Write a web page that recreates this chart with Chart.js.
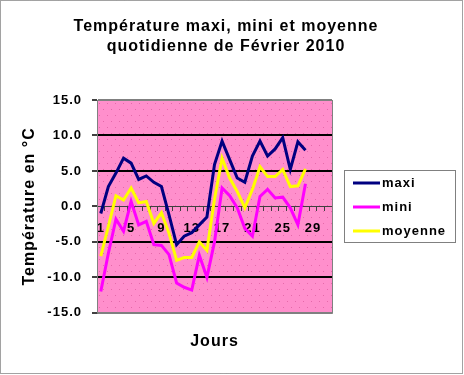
<!DOCTYPE html>
<html>
<head>
<meta charset="utf-8">
<script src="https://cdn.jsdelivr.net/npm/chart.js@4/dist/chart.umd.min.js"></script>
<style>
  html, body { margin: 0; padding: 0; background: #fff; }
  #wrap { width: 464px; height: 375px; }
</style>
</head>
<body>
<div id="wrap"><canvas id="tempChart" width="464" height="375"></canvas></div>
<script>
const days = ['1', '2', '3', '4', '5', '6', '7', '8', '9', '10', '11', '12', '13', '14', '15', '16',
  '17', '18', '19', '20', '21', '22', '23', '24', '25', '26', '27', '28', '29', '30', '31'];
const maxi = [-1.0, 2.8, 4.7, 6.8, 6.1, 3.8, 4.3, 3.4, 2.8, -1.2, -5.4, -4.2, -3.7, -2.6, -1.5,
  5.9, 9.2, 6.6, 4.0, 3.4, 7.1, 9.2, 7.1, 8.1, 9.7, 5.2, 9.1, 7.9];
const mini = [-12.0, -6.6, -1.8, -3.5, 0.7, -2.6, -2.1, -5.4, -5.5, -6.8, -10.8, -11.4, -11.8, -6.9, -10.0,
  -5.0, 2.6, 1.5, -0.2, -3.1, -4.2, 1.4, 2.4, 1.2, 1.3, -0.2, -2.6, 3.2];
const moyenne = [-7.0, -2.8, 1.5, 0.9, 2.6, 0.5, 0.7, -2.4, -0.9, -3.8, -7.6, -7.2, -7.2, -5.0, -6.2,
  1.0, 6.8, 4.0, 2.1, -0.2, 2.4, 5.6, 4.2, 4.2, 5.2, 2.8, 2.9, 5.3];

const FONT = 'Arial, "Liberation Sans", sans-serif';

// old Excel bitmap text is a bit wider than Arial, so space letters out
const wideText = {
  id: 'wideText',
  beforeUpdate(chart) { chart.ctx.letterSpacing = '1px'; },
  beforeDraw(chart) { chart.ctx.letterSpacing = '1px'; }
};

// pink dotted plot background + grey frame + dotted outer border
const plotArea = {
  id: 'plotArea',
  beforeDraw(chart) {
    const { ctx, chartArea: a } = chart;
    ctx.save();
    ctx.fillStyle = '#ff8fcc';
    ctx.fillRect(a.left, a.top, a.right - a.left, a.bottom - a.top);
    ctx.fillStyle = '#e668aa';
    let row = 0;
    for (let y = a.top + 3; y < a.bottom; y += 6, row++) {
      for (let x = a.left + 2 + (row % 2) * 4; x < a.right; x += 8) {
        ctx.fillRect(x, y, 1, 1);
      }
    }
    ctx.restore();
  },
  afterDraw(chart) {
    const { ctx, chartArea: a } = chart;
    ctx.save();
    ctx.strokeStyle = '#808080';
    ctx.lineWidth = 1;
    ctx.strokeRect(a.left + 0.5, a.top + 0.5, a.right - a.left, a.bottom - a.top);
    ctx.setLineDash([1, 1]);
    ctx.strokeStyle = '#444';
    ctx.strokeRect(0.5, 0.5, 462, 373);
    ctx.restore();
  }
};

// boxed legend on the right of the plot
const boxLegend = {
  id: 'boxLegend',
  afterDraw(chart) {
    const { ctx, chartArea: a } = chart;
    const x = a.right + 12, y = 170, w = 111, h = 72;
    ctx.save();
    ctx.fillStyle = '#fff';
    ctx.fillRect(x, y, w, h);
    ctx.strokeStyle = '#808080';
    ctx.lineWidth = 1;
    ctx.strokeRect(x + 0.5, y + 0.5, w, h);
    ctx.font = 'bold 13px ' + FONT;
    ctx.textBaseline = 'middle';
    chart.data.datasets.forEach((ds, i) => {
      const ly = y + 13 + i * 24;
      ctx.strokeStyle = ds.borderColor;
      ctx.lineWidth = 3;
      ctx.beginPath();
      ctx.moveTo(x + 9, ly);
      ctx.lineTo(x + 36, ly);
      ctx.stroke();
      ctx.fillStyle = '#000';
      ctx.fillText(ds.label, x + 38, ly);
    });
    ctx.restore();
  }
};

new Chart(document.getElementById('tempChart').getContext('2d'), {
  type: 'line',
  data: {
    labels: days,
    datasets: [
      { label: 'maxi', data: maxi, borderColor: '#000080' },
      { label: 'mini', data: mini, borderColor: '#ff00ff' },
      { label: 'moyenne', data: moyenne, borderColor: '#ffff00' }
    ]
  },
  options: {
    responsive: false,
    animation: false,
    elements: {
      line: { borderWidth: 3, tension: 0 },
      point: { radius: 0 }
    },
    layout: { padding: { left: 8, right: 20, top: 17, bottom: 24 } },
    plugins: {
      legend: { display: false },
      tooltip: { enabled: false },
      title: {
        display: true,
        text: ['Température maxi, mini et moyenne', 'quotidienne de Février 2010'],
        color: '#000',
        font: { family: FONT, size: 16, weight: 'bold', lineHeight: 1.25 },
        padding: { top: 0, bottom: 43 }
      }
    },
    scales: {
      x: {
        type: 'category',
        position: { y: 0 },
        offset: true,
        grid: {
          offset: true,
          drawOnChartArea: false,
          drawTicks: true,
          tickLength: 4,
          tickColor: '#404040'
        },
        border: { color: '#404040', width: 1 },
        ticks: {
          autoSkip: false,
          maxRotation: 0,
          padding: 10,
          color: '#000',
          font: { family: FONT, size: 13, weight: 'bold' },
          callback: (v, i) => (i % 4 === 0 ? days[i] : '')
        }
      },
      xTitle: {
        type: 'category',
        position: 'bottom',
        grid: { display: false, drawTicks: false },
        border: { display: false },
        ticks: { display: false },
        title: {
          display: true,
          text: 'Jours',
          color: '#000',
          font: { family: FONT, size: 16, weight: 'bold' },
          padding: { top: 19, bottom: 0 }
        }
      },
      y: {
        min: -15,
        max: 15,
        afterFit: s => { s.width = 89; },
        ticks: {
          stepSize: 5,
          padding: 10,
          color: '#000',
          font: { family: FONT, size: 13, weight: 'bold' },
          callback: v => v.toFixed(1)
        },
        grid: {
          lineWidth: 2,
          color: c => (c.tick.value === 0 ? 'rgba(0,0,0,0)' : Math.abs(c.tick.value) === 15 ? '#808080' : '#000'),
          tickColor: '#404040',
          tickLength: 5
        },
        border: { color: '#404040', width: 1 },
        title: {
          display: true,
          text: 'Température en °C',
          color: '#000',
          font: { family: FONT, size: 16, weight: 'bold' },
          padding: { top: 12, bottom: 0 }
        }
      },
      yRight: {
        position: 'right',
        grid: { display: false, drawTicks: false },
        border: { display: false },
        ticks: { display: false },
        afterFit: s => { s.width = 112; }
      }
    }
  },
  plugins: [wideText, plotArea, boxLegend]
});
</script>
</body>
</html>
